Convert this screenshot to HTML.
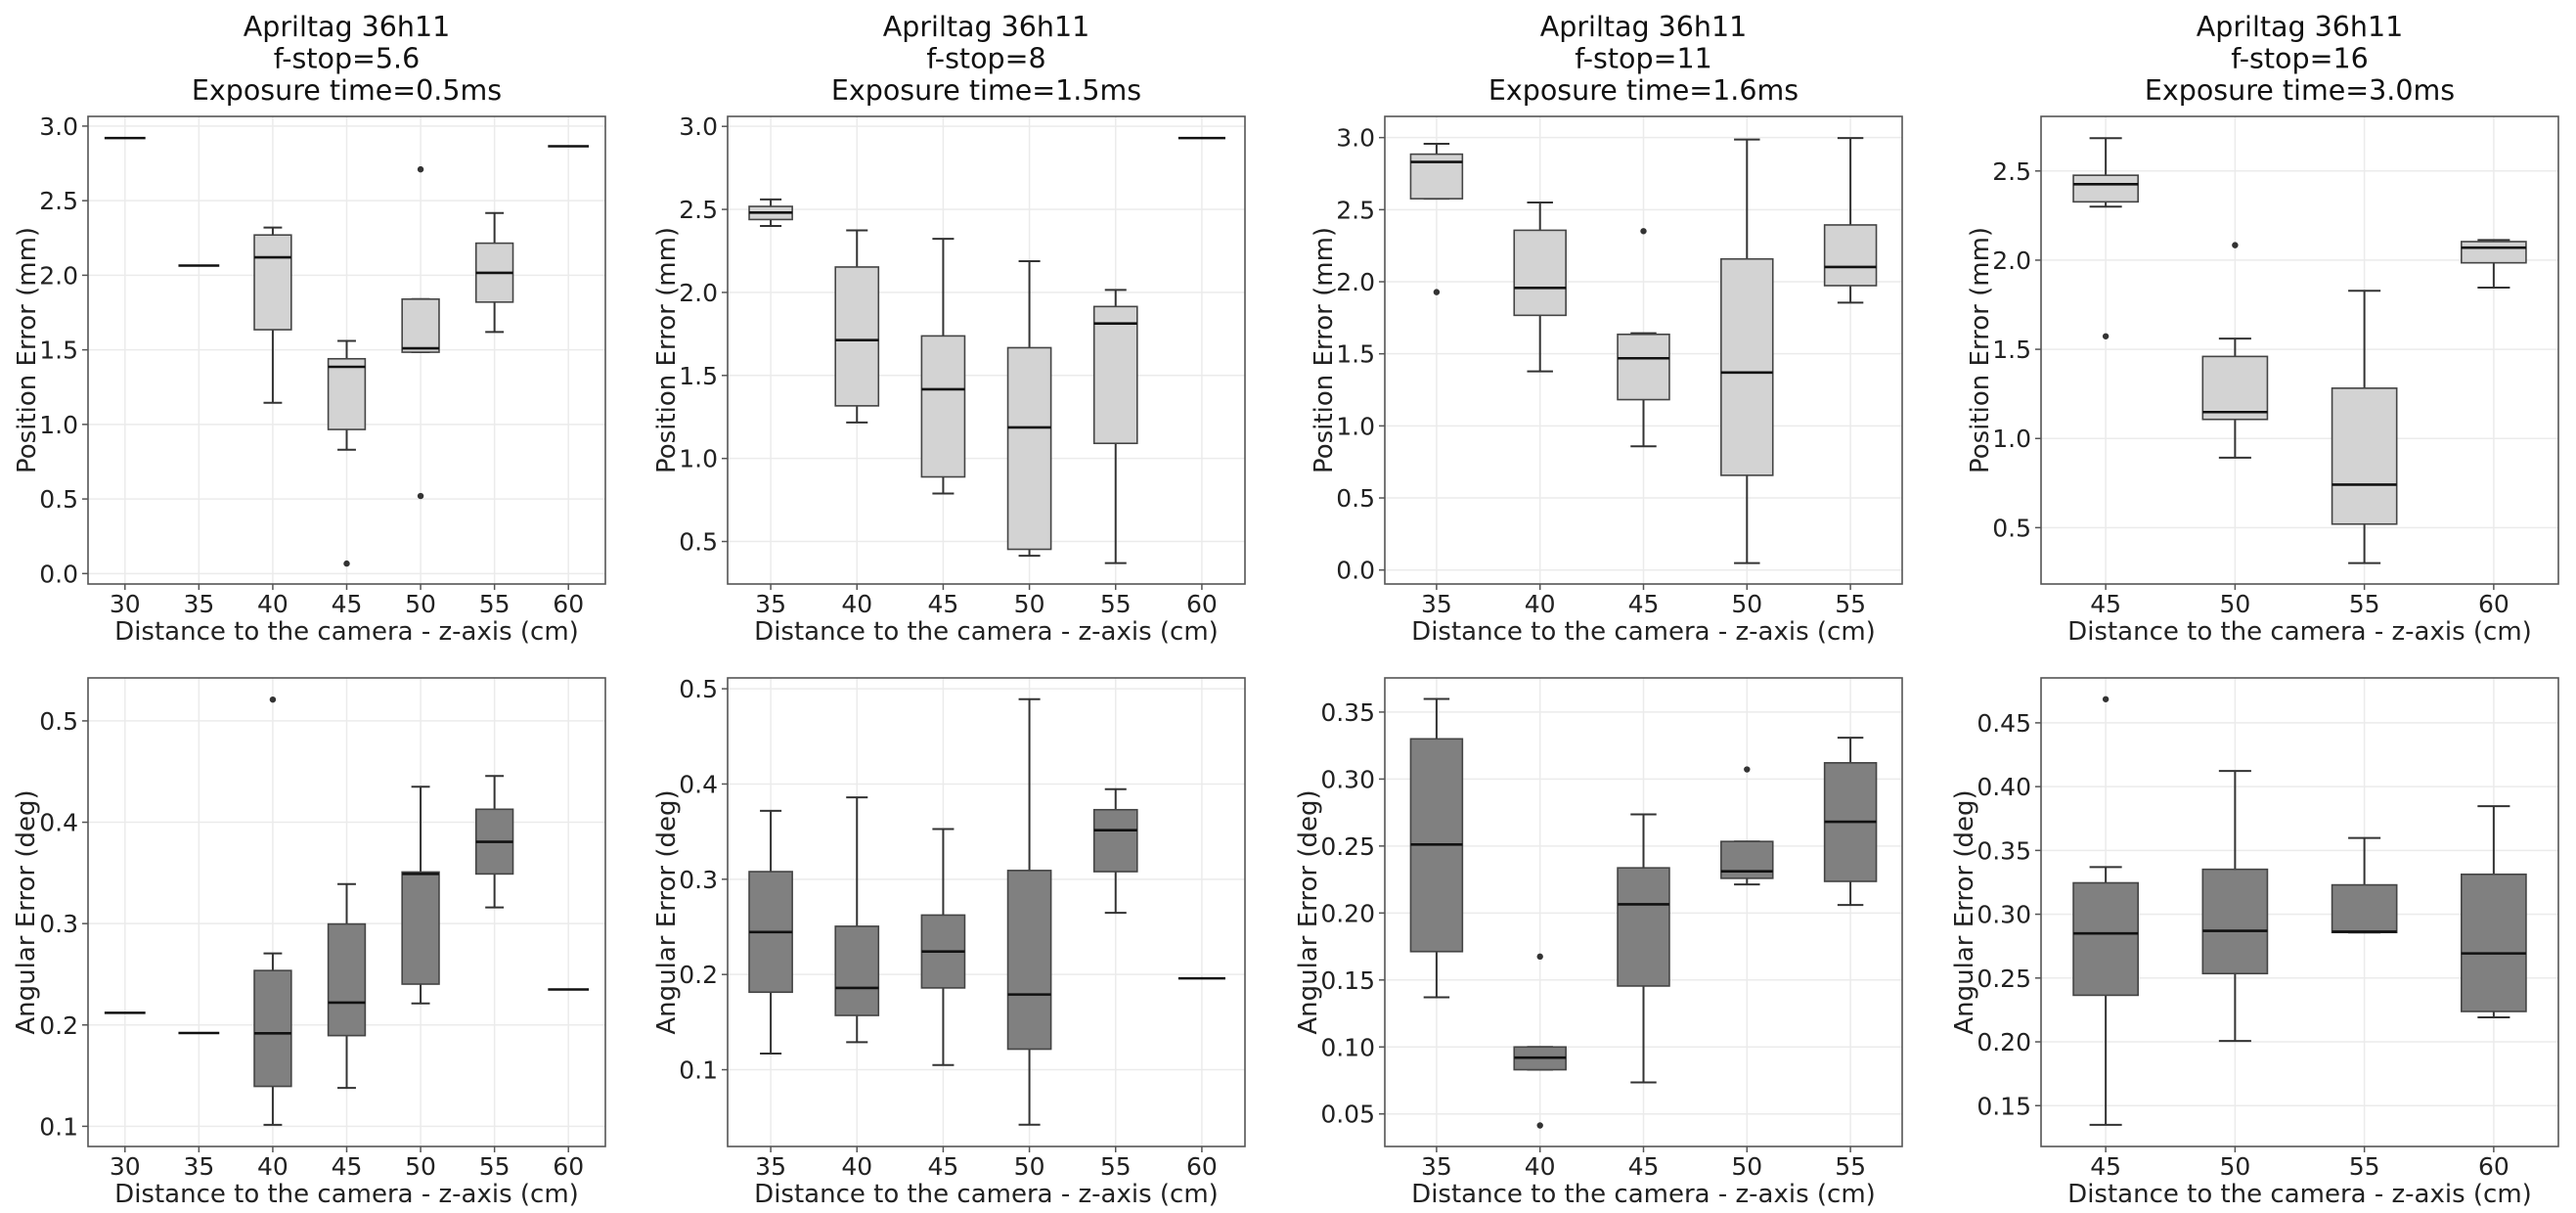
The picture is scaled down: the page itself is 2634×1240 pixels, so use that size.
<!DOCTYPE html>
<html><head><meta charset="utf-8">
<style>
html,body{margin:0;padding:0;background:#fff;}
svg{display:block;font-family:"DejaVu Sans","Liberation Sans",sans-serif;}
</style></head>
<body>
<svg id="s" width="2634" height="1240" viewBox="0 0 2634 1240" xmlns="http://www.w3.org/2000/svg"></svg>
<script>
var S=document.getElementById('s');var out='';
var P=[
 {x0:90,x1:619,top:true,ylim:[-0.07,3.065],ticks:[0,0.5,1,1.5,2,2.5,3],dec:1,lab:'Position Error (mm)',lx:27,
  title:['Apriltag 36h11','f-stop=5.6','Exposure time=0.5ms'],cats:[30,35,40,45,50,55,60],
  b:[[2.92],[2.065],[1.145,1.635,2.12,2.27,2.32],[0.83,0.966,1.386,1.44,1.56,[0.067]],[1.484,1.484,1.51,1.84,1.84,[2.71,0.52]],[1.62,1.82,2.016,2.215,2.417],[2.865]]},
 {x0:744,x1:1273,top:true,ylim:[0.244,3.06],ticks:[0.5,1,1.5,2,2.5,3],dec:1,lab:'Position Error (mm)',lx:681,
  title:['Apriltag 36h11','f-stop=8','Exposure time=1.5ms'],cats:[35,40,45,50,55,60],
  b:[[2.40,2.439,2.481,2.518,2.56],[1.217,1.317,1.713,2.153,2.374],[0.789,0.889,1.417,1.738,2.323],[0.414,0.453,1.187,1.667,2.188],[0.37,1.091,1.813,1.915,2.015],[2.93]]},
 {x0:1416,x1:1945,top:true,ylim:[-0.097,3.147],ticks:[0,0.5,1,1.5,2,2.5,3],dec:1,lab:'Position Error (mm)',lx:1353,
  title:['Apriltag 36h11','f-stop=11','Exposure time=1.6ms'],cats:[35,40,45,50,55],
  b:[[2.576,2.576,2.831,2.885,2.957,[1.928]],[1.378,1.767,1.957,2.357,2.55],[0.858,1.182,1.469,1.635,1.643,[2.351]],[0.048,0.657,1.37,2.158,2.987],[1.855,1.973,2.102,2.394,2.997]]},
 {x0:2087,x1:2616,top:true,ylim:[0.184,2.806],ticks:[0.5,1,1.5,2,2.5],dec:1,lab:'Position Error (mm)',lx:2024,
  title:['Apriltag 36h11','f-stop=16','Exposure time=3.0ms'],cats:[45,50,55,60],
  b:[[2.30,2.327,2.426,2.476,2.684,[1.573]],[0.892,1.107,1.148,1.46,1.56,[2.084]],[0.301,0.52,0.741,1.282,1.828],[1.846,1.985,2.07,2.104,2.113]]},
 {x0:90,x1:619,top:false,ylim:[0.0801,0.5424],ticks:[0.1,0.2,0.3,0.4,0.5],dec:1,lab:'Angular Error (deg)',lx:26,cats:[30,35,40,45,50,55,60],
  b:[[0.212],[0.192],[0.1015,0.1394,0.1918,0.2537,0.2706,[0.521]],[0.1379,0.1895,0.222,0.2996,0.339],[0.2212,0.2403,0.349,0.3509,0.435],[0.316,0.349,0.3807,0.4128,0.4457],[0.235]]},
 {x0:744,x1:1273,top:false,ylim:[0.0194,0.5114],ticks:[0.1,0.2,0.3,0.4,0.5],dec:1,lab:'Angular Error (deg)',lx:681,cats:[35,40,45,50,55,60],
  b:[[0.117,0.1814,0.2445,0.308,0.3718],[0.1289,0.157,0.1859,0.2506,0.386],[0.1049,0.1859,0.2241,0.2624,0.3527],[0.0422,0.1216,0.179,0.3092,0.489],[0.2648,0.308,0.3515,0.373,0.3946],[0.196]]},
 {x0:1416,x1:1945,top:false,ylim:[0.0257,0.3755],ticks:[0.05,0.1,0.15,0.2,0.25,0.3,0.35],dec:2,lab:'Angular Error (deg)',lx:1337,cats:[35,40,45,50,55],
  b:[[0.1371,0.1712,0.2511,0.33,0.3598],[0.083,0.083,0.092,0.1,0.1,[0.1675,0.0414]],[0.0735,0.1455,0.2065,0.2337,0.2736],[0.2213,0.2259,0.2311,0.2534,0.2534,[0.3072]],[0.206,0.2236,0.2681,0.3121,0.3309]]},
 {x0:2087,x1:2616,top:false,ylim:[0.118,0.4852],ticks:[0.15,0.2,0.25,0.3,0.35,0.4,0.45],dec:2,lab:'Angular Error (deg)',lx:2008,cats:[45,50,55,60],
  b:[[0.135,0.2365,0.285,0.3246,0.337,[0.4685]],[0.2007,0.2535,0.287,0.3352,0.4123],[0.2857,0.2857,0.2863,0.323,0.3598],[0.2192,0.2238,0.2693,0.3313,0.3847]]}
];
P.forEach(function(p){
 var yt=p.top?119:693, yb=p.top?597:1172, W=p.x1-p.x0, n=p.cats.length, sp=W/n;
 var fill=p.top?'#d3d3d3':'#808080';
 function Y(v){return yb-(v-p.ylim[0])/(p.ylim[1]-p.ylim[0])*(yb-yt);}
 function X(i){return p.x0+(i+0.5)*sp;}
 p.ticks.forEach(function(t){var y=Y(t);out+='<line x1="'+p.x0+'" x2="'+p.x1+'" y1="'+y+'" y2="'+y+'" stroke="#ebebeb" stroke-width="1.5"/>';
  out+='<line x1="'+(p.x0-6)+'" x2="'+p.x0+'" y1="'+y+'" y2="'+y+'" stroke="#555" stroke-width="1.5"/>';
  out+='<text x="'+(p.x0-10)+'" y="'+(y+9)+'" font-size="25" text-anchor="end" fill="#222">'+t.toFixed(p.dec)+'</text>';});
 p.cats.forEach(function(c,i){var x=X(i);out+='<line x1="'+x+'" x2="'+x+'" y1="'+yt+'" y2="'+yb+'" stroke="#ebebeb" stroke-width="1.5"/>';
  out+='<line x1="'+x+'" x2="'+x+'" y1="'+yb+'" y2="'+(yb+6)+'" stroke="#555" stroke-width="1.5"/>';
  out+='<text x="'+x+'" y="'+(yb+29)+'" font-size="25" text-anchor="middle" fill="#222">'+c+'</text>';});
 p.b.forEach(function(d,i){var x=X(i),bw=sp*0.5,cw=sp*0.25;
  if(d.length===1){out+='<line x1="'+(x-bw/2-2)+'" x2="'+(x+bw/2+2)+'" y1="'+Y(d[0])+'" y2="'+Y(d[0])+'" stroke="#111" stroke-width="2.5"/>';return;}
  var lo=Y(d[0]),q1=Y(d[1]),md=Y(d[2]),q3=Y(d[3]),hi=Y(d[4]);
  out+='<line x1="'+x+'" x2="'+x+'" y1="'+hi+'" y2="'+q3+'" stroke="#333" stroke-width="2"/>';
  out+='<line x1="'+x+'" x2="'+x+'" y1="'+q1+'" y2="'+lo+'" stroke="#333" stroke-width="2"/>';
  out+='<line x1="'+(x-cw/2)+'" x2="'+(x+cw/2)+'" y1="'+hi+'" y2="'+hi+'" stroke="#333" stroke-width="2"/>';
  out+='<line x1="'+(x-cw/2)+'" x2="'+(x+cw/2)+'" y1="'+lo+'" y2="'+lo+'" stroke="#333" stroke-width="2"/>';
  out+='<rect x="'+(x-bw/2)+'" y="'+q3+'" width="'+bw+'" height="'+Math.max(q1-q3,1)+'" fill="'+fill+'" stroke="#444" stroke-width="1.6"/>';
  out+='<line x1="'+(x-bw/2)+'" x2="'+(x+bw/2)+'" y1="'+md+'" y2="'+md+'" stroke="#111" stroke-width="2.6"/>';
  if(d[5])d[5].forEach(function(o){out+='<circle cx="'+x+'" cy="'+Y(o)+'" r="3.2" fill="#333"/>';});
 });
 out+='<rect x="'+p.x0+'" y="'+yt+'" width="'+W+'" height="'+(yb-yt)+'" fill="none" stroke="#555" stroke-width="1.6"/>';
 var cx=(p.x0+p.x1)/2;
 out+='<text x="'+cx+'" y="'+(yb+57)+'" font-size="26" text-anchor="middle" fill="#222">Distance to the camera - z-axis (cm)</text>';
 var cy=(yt+yb)/2;
 out+='<text transform="translate('+(p.lx+9)+','+cy+') rotate(-90)" font-size="26" text-anchor="middle" fill="#222">'+p.lab+'</text>';
 if(p.title){p.title.forEach(function(t,k){out+='<text x="'+cx+'" y="'+(37+k*32.5)+'" font-size="28.5" text-anchor="middle" fill="#111">'+t+'</text>';});}
});
S.innerHTML=out;
</script>
</body></html>
